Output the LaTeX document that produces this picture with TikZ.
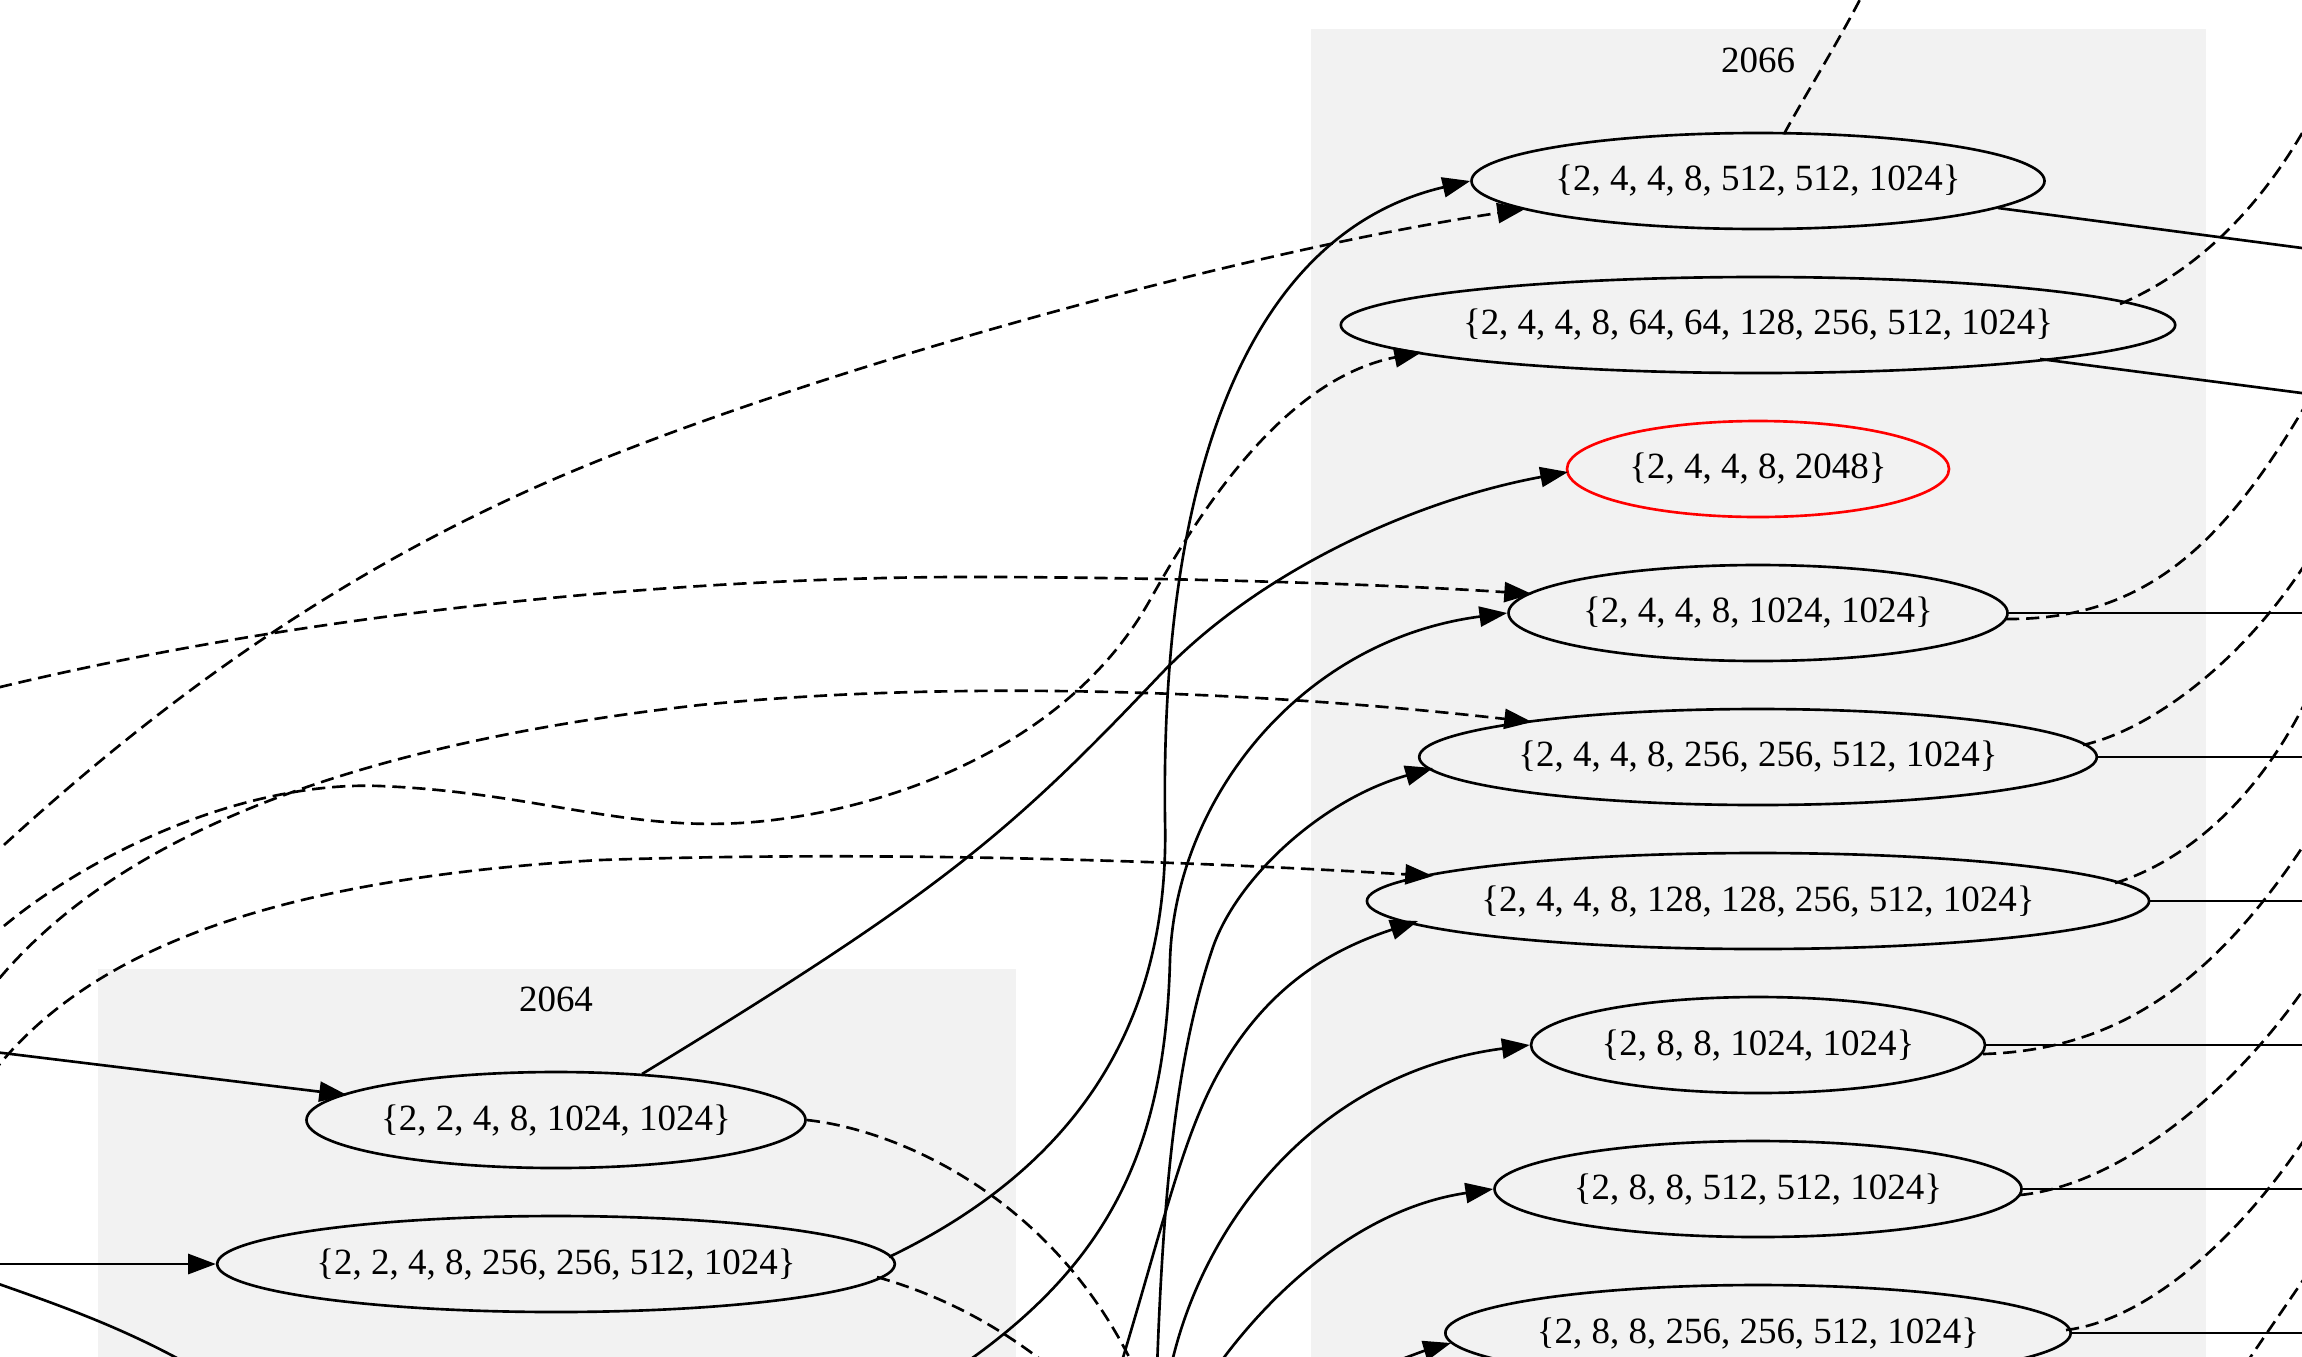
\documentclass[tikz,border=0pt]{standalone}
\usepackage{fontspec}
\setmainfont{Liberation Serif}
\usetikzlibrary{shapes.geometric,arrows.meta,calc}
\definecolor{clusterbg}{RGB}{242,242,242}
\begin{document}
\begin{tikzpicture}[x=0.3787pt,y=-0.3787pt,
  every node/.style={font=\fontsize{14}{16}\selectfont},
  st/.style={ellipse, draw=black, line width=1pt, inner sep=0pt,
             minimum height=96*0.3787pt, minimum width=#1*0.3787pt},
  hot/.style={draw=red},
  solidedge/.style={line width=1pt},
  dashededge/.style={line width=1pt, dash pattern=on 5pt off 2.6pt},
  arr/.style={-{Triangle[length=10.5pt,width=7.6pt]}}]

\useasboundingbox (0,0) rectangle (2302,1356);
\clip (0,0) rectangle (2302,1356);

% clusters
\fill[clusterbg] (1311,29) rectangle (2206,1420);
\fill[clusterbg] (97.5,969) rectangle (1016,1420);
\node (c66) at (1758,60) {2066};
\node (c64) at (556,999) {2064};

% states of year 2066
\node[st=572] (n1) at (1758,181) {\{2, 4, 4, 8, 512, 512, 1024\}};
\node[st=809] (n2) at (1758,325) {\{2, 4, 4, 8, 64, 64, 128, 256, 512, 1024\}};
\node[st=382, hot] (n3) at (1758,469) {\{2, 4, 4, 8, 2048\}};
\node[st=499] (n4) at (1758,613) {\{2, 4, 4, 8, 1024, 1024\}};
\node[st=668] (n5) at (1758,757) {\{2, 4, 4, 8, 256, 256, 512, 1024\}};
\node[st=762] (n6) at (1758,901) {\{2, 4, 4, 8, 128, 128, 256, 512, 1024\}};
\node[st=454] (n7) at (1758,1045) {\{2, 8, 8, 1024, 1024\}};
\node[st=527] (n8) at (1758,1189) {\{2, 8, 8, 512, 512, 1024\}};
\node[st=617] (n9) at (1758,1333) {\{2, 8, 8, 256, 256, 512, 1024\}};

% states of year 2064
\node[st=499] (a) at (556,1120) {\{2, 2, 4, 8, 1024, 1024\}};
\node[st=668] (b) at (556,1264) {\{2, 2, 4, 8, 256, 256, 512, 1024\}};

% ports on the ellipse borders
\coordinate (n1-inS) at ($(n1.center)+(-233,28)$);
\coordinate (n1-top) at ($(n1.center)+(26,-47)$);
\coordinate (n1-out) at ($(n1.center)+(240,27)$);
\coordinate (n2-inD) at ($(n2.center)+(-336,27)$);
\coordinate (n2-out) at ($(n2.center)+(282,34)$);
\coordinate (n2-up) at ($(n2.center)+(362,-21)$);
\coordinate (n3-in) at ($(n3.center)+(-190,3)$);
\coordinate (n4-inD) at ($(n4.center)+(-226,-19)$);
\coordinate (n4-up) at ($(n4.center)+(248,6)$);
\coordinate (n5-inD) at ($(n5.center)+(-226,-35)$);
\coordinate (n5-inS) at ($(n5.center)+(-325,11)$);
\coordinate (n5-up) at ($(n5.center)+(325,-12)$);
\coordinate (n6-inD) at ($(n6.center)+(-325,-25)$);
\coordinate (n6-inS) at ($(n6.center)+(-340,20)$);
\coordinate (n6-up) at ($(n6.center)+(357,-18)$);
\coordinate (n7-up) at ($(n7.center)+(225,9)$);
\coordinate (n8-up) at ($(n8.center)+(262,6)$);
\coordinate (n9-in) at ($(n9.center)+(-307,10)$);
\coordinate (n9-up) at ($(n9.center)+(308,-3)$);
\coordinate (a-in) at ($(a.center)+(-209,-25)$);
\coordinate (a-up) at ($(a.center)+(86,-46)$);
\coordinate (b-up) at ($(b.center)+(333,-7)$);
\coordinate (b-down) at ($(b.center)+(321,13)$);

% loose ends beyond the frame
\coordinate (inE2) at (-40,886);
\coordinate (inE3) at (-40,967);
\coordinate (inE5) at (-40,697);
\coordinate (inE7) at (-25,1010);
\coordinate (inE9) at (-20,1090);
\coordinate (inA) at (-30,1049);
\coordinate (inB) at (-30,1264);
\coordinate (passL) at (-40,1270);
\coordinate (passR) at (260,1410);
\coordinate (upN1) at (1870,-20);
\coordinate (srcE6) at (940,1380);
\coordinate (srcE8) at (1156,1400);
\coordinate (srcE10) at (1110,1400);
\coordinate (srcE11) at (1165,1400);
\coordinate (srcE12) at (1195,1400);
\coordinate (srcE13) at (1340,1380);
\coordinate (dstA) at (1140,1380);
\coordinate (dstB) at (1060,1375);
\coordinate (o1) at (2340,253);
\coordinate (o2) at (2340,398);
\coordinate (o2d) at (2320,100);
\coordinate (o4) at (2340,613);
\coordinate (o4d) at (2320,380);
\coordinate (o5) at (2340,757);
\coordinate (o5d) at (2320,540);
\coordinate (o6) at (2340,901);
\coordinate (o6d) at (2320,670);
\coordinate (o7) at (2340,1045);
\coordinate (o7d) at (2320,820);
\coordinate (o8) at (2340,1189);
\coordinate (o8d) at (2320,965);
\coordinate (o9) at (2340,1333);
\coordinate (o9d) at (2320,1115);
\coordinate (xd1) at (2320,1255);
\coordinate (xd2) at (2235,1380);

% edges arriving from the left
\draw[dashededge, arr] (inE2) .. controls (150,705) and (350,560) .. (600,460)
  .. controls (850,360) and (1250,250) .. (n1-inS);
\draw[dashededge, arr] (inE3) .. controls (50,870) and (230,780) .. (380,786)
  .. controls (530,792) and (620,830) .. (740,823)
  .. controls (860,816) and (1060,760) .. (1150,600)
  .. controls (1195,520) and (1280,380) .. (n2-inD);
\draw[dashededge, arr] (inE5) .. controls (300,610) and (700,575) .. (1000,577)
  .. controls (1200,578) and (1400,585) .. (n4-inD);
\draw[dashededge, arr] (inE7) .. controls (80,860) and (300,750) .. (700,705)
  .. controls (950,680) and (1250,690) .. (n5-inD);
\draw[dashededge, arr] (inE9) .. controls (70,960) and (250,880) .. (600,860)
  .. controls (900,850) and (1200,862) .. (n6-inD);
\draw[solidedge, arr] (inA) -- (a-in);
\draw[solidedge, arr] (inB) -- (b.west);
\draw[solidedge] (passL) .. controls (40,1300) and (150,1330) .. (passR);

% edges leaving 2064
\draw[solidedge, arr] (a-up) .. controls (941,892) and (1010,833) .. (1160,675)
  .. controls (1260,570) and (1416,500) .. (n3-in);
\draw[solidedge, arr] (b-up) .. controls (1080,1165) and (1170,1020) .. (1165,820)
  .. controls (1160,450) and (1260,230) .. (n1.west);
\draw[dashededge] (a.east) .. controls (900,1130) and (1060,1200) .. (dstA);
\draw[dashededge] (b-down) .. controls (940,1295) and (1000,1325) .. (dstB);

% edges rising from below
\draw[solidedge, arr] (srcE6) .. controls (1110,1270) and (1165,1150) .. (1170,960)
  .. controls (1175,800) and (1300,640) .. (n4.west);
\draw[solidedge, arr] (srcE8) .. controls (1162,1200) and (1175,1060) .. (1212,950)
  .. controls (1235,880) and (1320,800) .. (n5-inS);
\draw[solidedge, arr] (srcE10) .. controls (1160,1240) and (1180,1140) .. (1220,1070)
  .. controls (1268,986) and (1330,950) .. (n6-inS);
\draw[solidedge, arr] (srcE11) .. controls (1185,1250) and (1300,1075) .. (n7.west);
\draw[solidedge, arr] (srcE12) .. controls (1250,1310) and (1350,1210) .. (n8.west);
\draw[solidedge, arr] (srcE13) .. controls (1380,1368) and (1420,1352) .. (n9-in);

% edges leaving 2066
\draw[dashededge] (n1-top) .. controls (1805,95) and (1840,40) .. (upN1);
\draw[solidedge] (n1-out) -- (o1);
\draw[solidedge] (n2-out) -- (o2);
\draw[dashededge] (n2-up) .. controls (2200,270) and (2270,200) .. (o2d);
\draw[solidedge] (n4.east) -- (o4);
\draw[dashededge] (n4-up) .. controls (2150,620) and (2230,540) .. (o4d);
\draw[solidedge] (n5.east) -- (o5);
\draw[dashededge] (n5-up) .. controls (2150,730) and (2250,660) .. (o5d);
\draw[solidedge] (n6.east) -- (o6);
\draw[dashededge] (n6-up) .. controls (2190,860) and (2270,790) .. (o6d);
\draw[solidedge] (n7.east) -- (o7);
\draw[dashededge] (n7-up) .. controls (2120,1050) and (2220,980) .. (o7d);
\draw[solidedge] (n8.east) -- (o8);
\draw[dashededge] (n8-up) .. controls (2120,1185) and (2240,1090) .. (o8d);
\draw[solidedge] (n9.east) -- (o9);
\draw[dashededge] (n9-up) .. controls (2150,1320) and (2250,1230) .. (o9d);
\draw[dashededge] (xd1) .. controls (2290,1300) and (2265,1335) .. (xd2);
\end{tikzpicture}
\end{document}
